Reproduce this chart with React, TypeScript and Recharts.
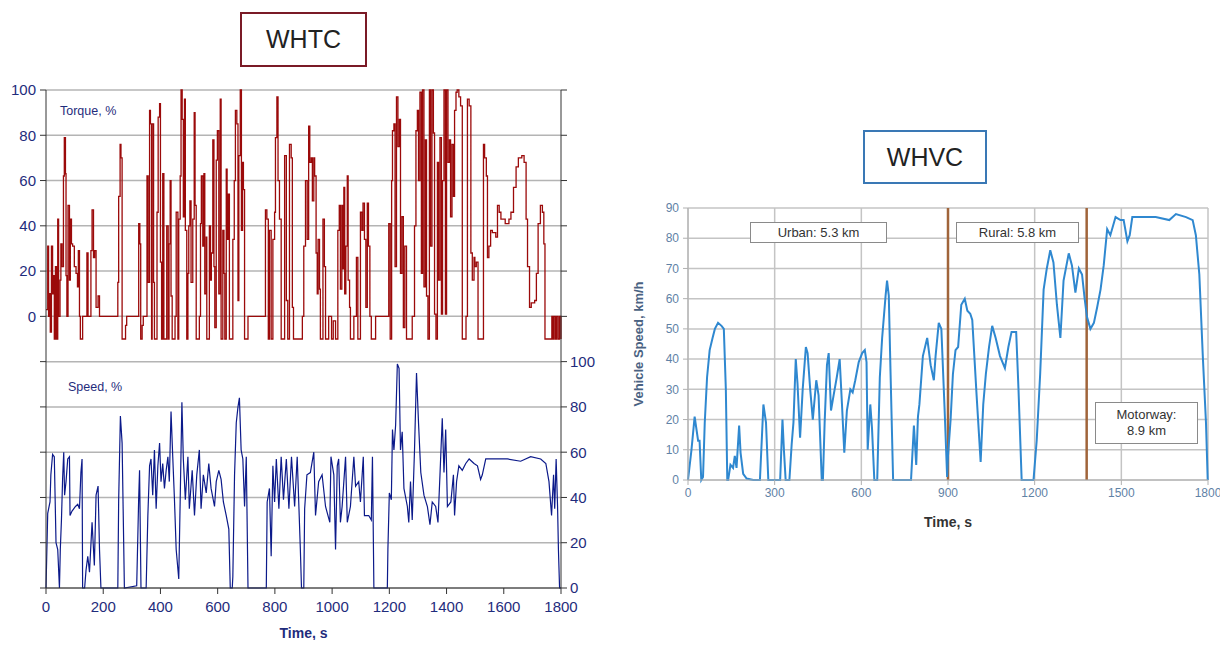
import React from 'react';
import { ComposedChart, LineChart, Line, XAxis, YAxis, CartesianGrid, ReferenceLine } from 'recharts';

// WHTC (left): normalised torque and speed vs time, [t, value]
const whtcTorque: [number, number][] = [
  [0, 3], [6, 31], [9, 0], [12, 10], [15, -7], [19, 31], [23, 10], [27, 18], [29, -10], [33, 22], [37, -10], [41, 43],
  [44, 0], [49, 16], [52, 32], [56, 22], [61, 62], [64, 79], [68, 63], [70, 18], [73, 0], [77, 49], [82, 16], [85, 43],
  [89, 32], [93, 31], [99, 22], [105, 19], [110, 13], [113, 29], [117, 0], [120, -10], [128, 0], [143, 28], [147, 0],
  [157, 29], [161, 47], [166, 26], [170, 29], [175, 4], [182, 9], [187, 0], [251, 15], [254, 53], [259, 76], [262, 70],
  [266, -10], [278, -4], [282, 0], [324, 41], [328, 32], [331, -10], [336, -4], [340, 0], [353, 62], [357, 15], [362, 91],
  [365, 85], [369, -10], [371, 85], [376, 15], [379, -10], [388, 46], [392, 88], [397, 94], [400, 24], [404, -10],
  [408, 63], [412, -10], [422, 40], [427, -10], [430, 32], [434, 60], [437, 9], [441, -10], [451, 0], [455, 46],
  [461, -10], [464, 43], [469, 62], [472, 100], [476, 87], [480, 44], [484, 96], [487, 38], [492, -10], [496, 19],
  [499, 40], [503, 51], [507, 15], [513, 43], [518, 90], [521, 49], [525, -10], [536, 0], [540, 41], [543, 62], [548, 31],
  [552, 63], [555, 10], [560, 35], [562, -10], [571, 40], [575, 16], [578, 28], [583, 78], [587, 22], [590, -5], [595, 69],
  [599, 82], [604, 10], [609, 96], [612, -10], [618, 38], [622, 19], [625, -10], [630, 65], [633, 34], [637, 54],
  [641, -10], [653, 34], [658, 60], [662, 91], [667, 85], [671, 7], [674, 71], [679, 100], [683, 38], [687, 68], [690, 56],
  [694, -10], [706, 0], [767, 47], [772, 43], [777, -10], [781, 38], [787, -10], [793, 34], [799, 46], [802, 79], [807, 97],
  [811, 60], [816, 43], [822, -10], [834, 71], [840, 7], [845, -10], [851, 76], [857, 70], [861, 4], [865, -10],
  [896, 0], [901, 31], [907, 60], [913, 34], [918, 84], [922, 68], [927, 70], [931, 51], [936, 70], [939, 62], [944, 28],
  [948, 10], [951, 34], [956, 12], [959, -10], [968, 43], [973, 22], [977, -10], [988, 0], [998, -10], [1004, -2],
  [1012, -10], [1020, 38], [1025, 49], [1029, 12], [1034, 49], [1037, 21], [1041, 57], [1044, 10], [1048, 31], [1053, 62],
  [1056, 16], [1061, 4], [1064, -10], [1076, 0], [1085, 26], [1090, -10], [1099, 46], [1104, 38], [1108, 50], [1113, 34],
  [1118, 4], [1123, 50], [1127, 31], [1132, 0], [1137, -10], [1152, 0], [1198, 41], [1203, -10], [1208, 60], [1211, 82],
  [1216, 85], [1220, 22], [1225, 97], [1230, 75], [1235, 87], [1239, 19], [1244, 44], [1249, -5], [1254, 31], [1260, -10],
  [1280, 0], [1288, 40], [1293, 82], [1298, 91], [1302, 60], [1307, 99], [1312, 19], [1316, 100], [1321, 13], [1326, 78],
  [1330, 9], [1335, -10], [1340, 100], [1344, 31], [1349, 100], [1354, 81], [1358, 1], [1363, -10], [1368, 68], [1372, 16],
  [1377, 79], [1382, 1], [1386, 60], [1391, 100], [1396, 1], [1400, 100], [1405, 68], [1410, 78], [1414, 44], [1419, 76],
  [1424, 53], [1428, 91], [1433, 99], [1437, 100], [1443, 97], [1449, 93], [1455, -10], [1468, 0], [1473, 96], [1479, 93],
  [1485, 28], [1490, 16], [1496, 26], [1499, 22], [1504, 24], [1510, -10], [1529, 76], [1533, 70], [1539, 62], [1543, 26],
  [1548, 31], [1554, 38], [1560, 37], [1572, 35], [1578, 49], [1584, 46], [1590, 43], [1605, 41], [1618, 43], [1625, 46],
  [1634, 57], [1643, 66], [1651, 70], [1663, 71], [1671, 68], [1678, 43], [1683, 22], [1690, 4], [1696, 6], [1708, 7],
  [1714, 19], [1720, 41], [1728, 49], [1735, 46], [1740, 32], [1744, -10], [1768, 0], [1772, -10], [1776, 0], [1781, -10],
  [1785, 0], [1790, -10], [1795, 0], [1800, -10],
];

const whtcSpeed: [number, number][] = [
  [0, 0], [6, 33], [14, 38], [17, 50], [23, 59], [29, 58], [35, 20], [41, 17], [47, 0], [50, 17], [54, 30], [58, 48],
  [62, 60], [65, 41], [70, 47], [76, 57], [82, 58], [84, 32], [91, 34], [103, 36], [111, 37], [117, 35], [122, 51],
  [126, 57], [128, 0], [135, 0], [140, 8], [146, 14], [152, 7], [161, 29], [169, 10], [175, 41], [182, 45], [187, 17],
  [192, 0], [251, 0], [254, 39], [260, 76], [266, 64], [274, 0], [317, 1], [324, 40], [327, 52], [332, 0], [350, 0],
  [356, 32], [362, 54], [367, 57], [373, 41], [379, 61], [385, 35], [391, 54], [397, 64], [402, 47], [408, 55], [414, 44],
  [420, 52], [426, 58], [431, 47], [437, 78], [443, 58], [449, 39], [455, 17], [464, 4], [469, 39], [475, 82], [480, 57],
  [487, 39], [496, 58], [501, 35], [511, 52], [519, 32], [527, 50], [536, 61], [542, 35], [550, 50], [560, 42], [569, 55],
  [577, 44], [589, 36], [595, 47], [604, 52], [612, 48], [620, 38], [630, 32], [639, 26], [644, 0], [651, 0], [653, 5],
  [659, 50], [665, 73], [671, 80], [676, 84], [682, 61], [688, 57], [694, 36], [700, 58], [706, 0], [770, 0], [773, 38],
  [781, 44], [787, 14], [793, 54], [799, 38], [805, 57], [814, 35], [822, 58], [830, 39], [840, 57], [849, 35], [858, 58],
  [869, 36], [878, 58], [889, 17], [893, 0], [901, 0], [904, 35], [912, 50], [924, 51], [936, 60], [942, 32], [953, 47],
  [965, 50], [977, 36], [992, 29], [996, 58], [1006, 50], [1012, 17], [1018, 54], [1023, 57], [1029, 29], [1035, 36],
  [1047, 58], [1053, 29], [1064, 36], [1076, 58], [1082, 45], [1093, 47], [1099, 38], [1109, 58], [1113, 32], [1128, 32],
  [1137, 30], [1141, 58], [1146, 0], [1193, 0], [1195, 17], [1200, 42], [1207, 39], [1211, 70], [1216, 61], [1222, 72],
  [1228, 99], [1234, 97], [1239, 61], [1245, 69], [1251, 44], [1263, 36], [1268, 29], [1274, 47], [1280, 30], [1288, 61],
  [1295, 95], [1302, 73], [1310, 51], [1321, 41], [1333, 36], [1342, 28], [1350, 38], [1362, 36], [1370, 29], [1377, 50],
  [1385, 75], [1391, 51], [1397, 70], [1403, 36], [1415, 38], [1424, 50], [1428, 32], [1435, 47], [1443, 54], [1455, 52],
  [1467, 55], [1479, 57], [1496, 55], [1508, 54], [1519, 48], [1525, 50], [1537, 57], [1566, 57], [1613, 57], [1659, 56],
  [1694, 58], [1729, 57], [1747, 55], [1758, 47], [1767, 32], [1774, 50], [1778, 35], [1783, 57], [1788, 36], [1791, 17],
  [1795, 0], [1800, 0],
];

// WHVC (right): vehicle speed km/h vs time
const whvcSpeed: [number, number][] = [
  [0, 0], [12, 10], [23, 21], [35, 13], [40, 13], [46, 0], [52, 1], [58, 19], [66, 34], [75, 43], [85, 47], [93, 50],
  [104, 52], [116, 51], [124, 50], [131, 30], [136, 0], [139, 0], [147, 5], [156, 4], [162, 8], [168, 4], [177, 18],
  [182, 9], [191, 2], [203, 0.5], [226, 0], [249, 0], [261, 25], [270, 19], [278, 0], [319, 0], [327, 20], [332, 10],
  [338, 0], [351, 0], [359, 12], [365, 19], [373, 40], [379, 32], [388, 14], [397, 30], [408, 44], [414, 42], [423, 30],
  [432, 20], [444, 33], [452, 28], [463, 0], [467, 0], [473, 19], [481, 38], [487, 42], [495, 23], [504, 28], [515, 34],
  [525, 40], [533, 25], [541, 9], [550, 23], [562, 30], [570, 29], [579, 33], [591, 39], [603, 42], [612, 43], [618, 39],
  [622, 10], [631, 25], [637, 17], [645, 0], [655, 0], [664, 34], [672, 47], [684, 61], [689, 66], [695, 61], [701, 36],
  [710, 0], [772, 0], [782, 18], [790, 5], [796, 21], [801, 25], [813, 41], [828, 47], [840, 38], [851, 33], [857, 41],
  [868, 52], [877, 50], [888, 24], [897, 1], [900, 8], [909, 20], [917, 35], [926, 43], [935, 44], [946, 58], [958, 60],
  [967, 56], [977, 55], [984, 53], [999, 28], [1013, 6], [1022, 25], [1031, 35], [1042, 44], [1053, 51], [1065, 47],
  [1080, 41], [1097, 37], [1109, 44], [1120, 49], [1136, 49], [1144, 30], [1155, 0], [1196, 0], [1207, 13], [1219, 35],
  [1231, 63], [1242, 70], [1254, 76], [1265, 72], [1277, 58], [1289, 47], [1300, 66], [1318, 75], [1329, 71], [1341, 62],
  [1353, 70], [1364, 68], [1373, 60], [1381, 54], [1393, 50], [1405, 52], [1416, 57], [1428, 63], [1439, 71], [1451, 83],
  [1462, 81], [1480, 87], [1497, 86], [1508, 86], [1521, 79], [1529, 81], [1538, 87], [1573, 87], [1619, 87], [1666, 86],
  [1689, 88], [1724, 87], [1747, 86], [1758, 81], [1770, 68], [1782, 41], [1793, 19], [1799, 0],
];

const whtcTimeTicks = [0, 200, 400, 600, 800, 1000, 1200, 1400, 1600, 1800];
const torqueTicks = [-120, -100, -80, -60, -40, -20, 0, 20, 40, 60, 80, 100];
const speedPctTicks = [0, 20, 40, 60, 80, 100, 120, 140, 160, 180, 200, 220];
const whvcTimeTicks = [0, 300, 600, 900, 1200, 1500, 1800];
const whvcSpeedTicks = [0, 10, 20, 30, 40, 50, 60, 70, 80, 90];
const phaseBounds = [900, 1380];
const phaseLabels = ['Urban: 5.3 km', 'Rural: 5.8 km', 'Motorway:', '8.9 km'];

const toRows = (pairs: [number, number][]) => pairs.map(([t, v]) => ({ t, v }));

const FONT = '"Liberation Sans", Arial, sans-serif';
const NAVY = '#1f2c7c';
const GREYBLUE = '#5f82a6';

function WhtcChart() {
  const tickStyle = { fill: NAVY, fontSize: 15 };
  return (
    <ComposedChart width={600} height={560} margin={{ top: 10, right: 0, bottom: 0, left: 0 }}>
      <CartesianGrid yAxisId="t" vertical={false} stroke="#b4b4b4" strokeWidth={1.5} />
      <XAxis
        type="number"
        dataKey="t"
        domain={[0, 1800]}
        ticks={whtcTimeTicks}
        interval={0}
        height={52}
        stroke="#333"
        tick={tickStyle}
        tickSize={6}
        tickMargin={7}
        label={{ value: 'Time, s', position: 'insideBottom', offset: 2, fill: NAVY, fontSize: 14, fontWeight: 'bold' }}
      />
      <YAxis
        yAxisId="t"
        domain={[-120, 100]}
        ticks={torqueTicks}
        interval={0}
        width={46}
        stroke="#333"
        tick={tickStyle}
        tickSize={6}
        tickMargin={4}
        tickFormatter={(v: number) => (v >= 0 ? String(v) : '')}
      />
      <YAxis
        yAxisId="s"
        orientation="right"
        domain={[0, 220]}
        ticks={speedPctTicks}
        interval={0}
        width={39}
        stroke="#333"
        tick={tickStyle}
        tickSize={6}
        tickMargin={3}
        tickFormatter={(v: number) => (v <= 100 ? String(v) : '')}
      />
      <Line
        yAxisId="t"
        data={toRows(whtcTorque)}
        dataKey="v"
        type="stepAfter"
        stroke="#9b0a0a"
        strokeWidth={1.3}
        dot={false}
        isAnimationActive={false}
      />
      <Line
        yAxisId="s"
        data={toRows(whtcSpeed)}
        dataKey="v"
        type="linear"
        stroke="#0c1a8a"
        strokeWidth={1.2}
        dot={false}
        isAnimationActive={false}
      />
    </ComposedChart>
  );
}

function WhvcChart() {
  const tickStyle = { fill: GREYBLUE, fontSize: 12 };
  return (
    <LineChart width={600} height={340} margin={{ top: 13, right: 12, bottom: 0, left: 0 }}>
      <CartesianGrid stroke="#c4c4c4" strokeWidth={1.5} />
      <XAxis
        type="number"
        dataKey="t"
        domain={[0, 1800]}
        ticks={whvcTimeTicks}
        interval={0}
        height={55}
        stroke="#b0b0b0"
        tick={tickStyle}
        tickSize={5}
        tickMargin={3}
        label={{ value: 'Time, s', position: 'insideBottom', offset: 8, fill: '#333', fontSize: 14, fontWeight: 'bold' }}
      />
      <YAxis
        domain={[0, 90]}
        ticks={whvcSpeedTicks}
        interval={0}
        width={68}
        stroke="#b0b0b0"
        tick={tickStyle}
        tickSize={5}
        tickMargin={4}
      />
      {phaseBounds.map((x) => (
        <ReferenceLine key={x} x={x} stroke="#a0643a" strokeWidth={2.5} />
      ))}
      <Line
        data={toRows(whvcSpeed)}
        dataKey="v"
        type="linear"
        stroke="#2f88d0"
        strokeWidth={2}
        dot={false}
        isAnimationActive={false}
      />
    </LineChart>
  );
}

const boxText: React.CSSProperties = {
  position: 'absolute',
  boxSizing: 'border-box',
  background: '#fff',
  border: '1px solid #8a8a8a',
  color: '#333',
  fontSize: 13,
  display: 'flex',
  alignItems: 'center',
  justifyContent: 'center',
  textAlign: 'center',
};

export default function App() {
  return (
    <div style={{ position: 'absolute', left: 0, top: 0, width: 1225, height: 646, background: '#fff', fontFamily: FONT }}>
      <div
        style={{
          position: 'absolute', left: 240, top: 12, width: 127, height: 55, boxSizing: 'border-box',
          border: '2px solid #7a1a26', display: 'flex', alignItems: 'center', justifyContent: 'center',
          fontSize: 25, color: '#222',
        }}
      >
        WHTC
      </div>
      <div
        style={{
          position: 'absolute', left: 863, top: 130, width: 124, height: 54, boxSizing: 'border-box',
          border: '2.5px solid #3a78b5', display: 'flex', alignItems: 'center', justifyContent: 'center',
          fontSize: 25, color: '#222',
        }}
      >
        WHVC
      </div>

      <div style={{ position: 'absolute', left: 0, top: 80 }}>
        <WhtcChart />
      </div>
      <div style={{ position: 'absolute', left: 60, top: 104, fontSize: 12.5, color: NAVY }}>Torque, %</div>
      <div style={{ position: 'absolute', left: 68, top: 380, fontSize: 12.5, color: NAVY }}>Speed, %</div>

      <div style={{ position: 'absolute', left: 620, top: 195 }}>
        <WhvcChart />
      </div>
      <div
        style={{
          position: 'absolute', left: 638, top: 344, transform: 'translate(-50%, -50%) rotate(-90deg)',
          whiteSpace: 'nowrap', fontSize: 13, fontWeight: 'bold', color: '#4a6282',
        }}
      >
        Vehicle Speed, km/h
      </div>
      <div style={{ ...boxText, left: 750, top: 222, width: 137, height: 21 }}>{phaseLabels[0]}</div>
      <div style={{ ...boxText, left: 956, top: 222, width: 123, height: 21 }}>{phaseLabels[1]}</div>
      <div style={{ ...boxText, left: 1095, top: 402, width: 103, height: 42, flexDirection: 'column', lineHeight: '16px' }}>
        <span>{phaseLabels[2]}</span>
        <span>{phaseLabels[3]}</span>
      </div>
    </div>
  );
}
